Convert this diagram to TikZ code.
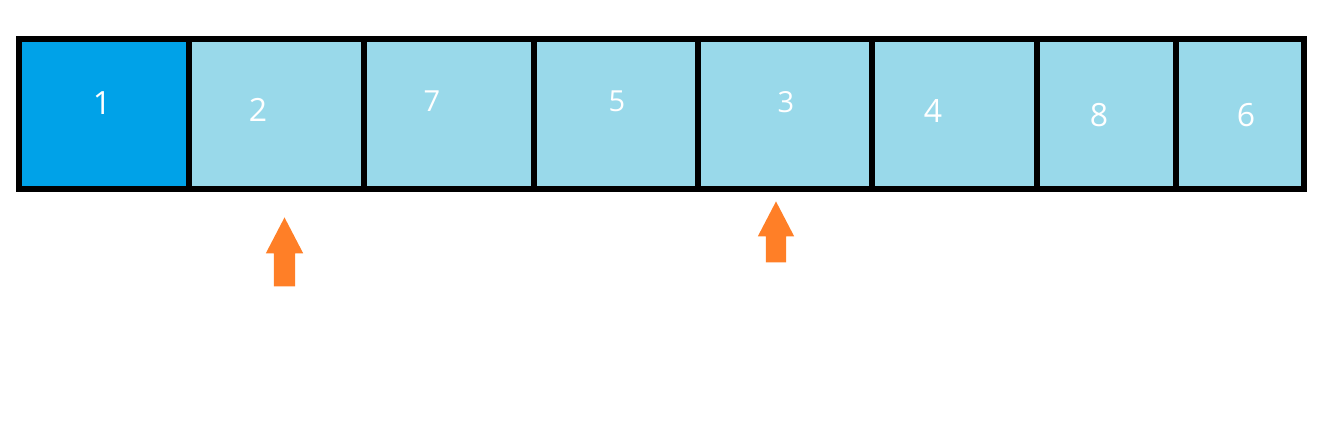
\documentclass[tikz,border=0pt]{standalone}
\usepackage{fontspec}
\setmainfont{Open Sans}
\usetikzlibrary{shapes.arrows, positioning}
\definecolor{cellblue}{HTML}{99D9EA}
\definecolor{cellhot}{HTML}{00A2E8}
\definecolor{ptrorange}{HTML}{FF7F27}

\begin{document}
\begin{tikzpicture}[x=1pt, y=-1pt,
  cell/.style={rectangle, draw=black, line width=6pt, fill=cellblue, minimum height=150pt, outer sep=0pt, inner sep=0pt},
  digit/.style={text=white, font=\fontsize{32}{32}\selectfont, inner sep=0pt},
  smalldigit/.style={digit, font=\fontsize{29}{29}\selectfont},
  pointer/.style={single arrow, fill=ptrorange, draw=none, rotate=90, anchor=tip, inner sep=10.5pt, single arrow head extend=8pt, single arrow tip angle=55}]
\useasboundingbox (0,0) rectangle (1327,424);
% row of cells
\node[cell, fill=cellhot, minimum width=169.5pt, anchor=west] (c1) at (19,114) {};
\node[cell, minimum width=175pt, right=0pt of c1] (c2) {};
\node[cell, minimum width=170pt, right=0pt of c2] (c3) {};
\node[cell, minimum width=164pt, right=0pt of c3] (c4) {};
\node[cell, minimum width=174pt, right=0pt of c4] (c5) {};
\node[cell, minimum width=165.5pt, right=0pt of c5] (c6) {};
\node[cell, minimum width=138.5pt, right=0pt of c6] (c7) {};
\node[cell, minimum width=128pt, right=0pt of c7] (c8) {};
% values
\node[digit] (v1) at (102,103) {1};
\node[digit] (v2) at (258,110) {2};
\node[smalldigit] (v3) at (432,101) {7};
\node[smalldigit] (v4) at (617,101) {5};
\node[smalldigit] (v5) at (786,102) {3};
\node[digit] (v6) at (933,111) {4};
\node[digit] (v7) at (1099,115) {8};
\node[digit] (v8) at (1246,115) {6};
% pointers
\node[pointer, minimum height=69pt] (p1) at (284.5,217) {};
\node[pointer, minimum height=61pt, inner sep=10pt] (p2) at (776,201) {};
\end{tikzpicture}
\end{document}
